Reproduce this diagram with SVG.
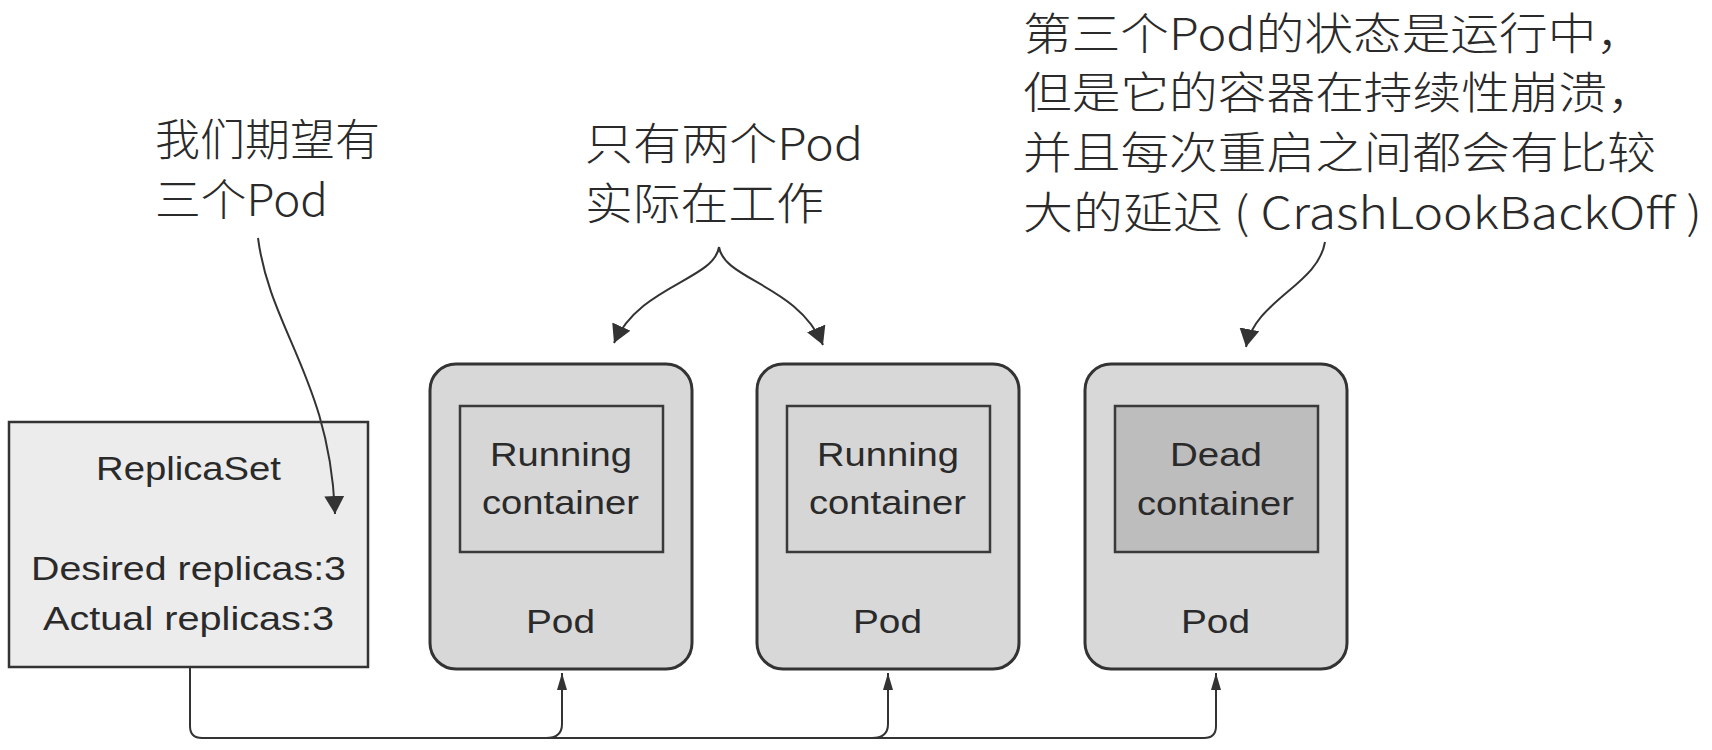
<svg xmlns="http://www.w3.org/2000/svg" width="1712" height="750" viewBox="0 0 1712 750">
<style>
  text { font-family: "Liberation Sans", "Noto Sans CJK SC", sans-serif; fill: #2a2a2a; }
  .cjk { font-family: "Noto Sans CJK SC", "Liberation Sans", sans-serif; font-size: 44px; font-weight: 300; }
  .lbl { font-size: 34px; }
  .pod { fill: #d8d8d8; stroke: #333; stroke-width: 3; }
  .inner { fill: #d6d6d6; stroke: #3a3a3a; stroke-width: 2.5; }
  .dead { fill: #bdbdbd; stroke: #3a3a3a; stroke-width: 2.5; }
  .rs { fill: #ececec; stroke: #333; stroke-width: 2.5; }
  .conn { fill: none; stroke: #333; stroke-width: 2; }
</style>
<defs>
  <marker id="ah" viewBox="0 0 18 20" refX="18" refY="10" markerWidth="18" markerHeight="20" orient="auto" markerUnits="userSpaceOnUse">
    <path d="M0,0 L18,10 L0,20 z" fill="#333"/>
  </marker>
  <marker id="ahs" viewBox="0 0 17 10" refX="17" refY="5" markerWidth="17" markerHeight="10" orient="auto" markerUnits="userSpaceOnUse">
    <path d="M0,0 L17,5 L0,10 z" fill="#333"/>
  </marker>
</defs>

<g id="note-desired">
  <text class="cjk" x="155" y="156" textLength="225" lengthAdjust="spacingAndGlyphs">我们期望有</text>
  <text class="cjk" x="155" y="216" textLength="173" lengthAdjust="spacingAndGlyphs">三个Pod</text>
</g>

<g id="note-actual">
  <text class="cjk" x="585" y="160" textLength="278" lengthAdjust="spacingAndGlyphs">只有两个Pod</text>
  <text class="cjk" x="585" y="220" textLength="239" lengthAdjust="spacingAndGlyphs">实际在工作</text>
</g>

<g id="note-crash">
  <text class="cjk" x="1023" y="50" textLength="622" lengthAdjust="spacingAndGlyphs">第三个Pod的状态是运行中，</text>
  <text class="cjk" x="1023" y="109" textLength="633" lengthAdjust="spacingAndGlyphs">但是它的容器在持续性崩溃，</text>
  <text class="cjk" x="1023" y="169" textLength="633" lengthAdjust="spacingAndGlyphs">并且每次重启之间都会有比较</text>
  <text class="cjk" x="1023" y="229" textLength="679" lengthAdjust="spacingAndGlyphs">大的延迟 ( CrashLookBackOff )</text>
</g>

<g id="replicaset">
  <rect class="rs" x="9" y="422" width="359" height="245"/>
  <text class="lbl" x="96" y="480" textLength="185" lengthAdjust="spacingAndGlyphs">ReplicaSet</text>
  <text class="lbl" x="31" y="580" textLength="315" lengthAdjust="spacingAndGlyphs">Desired replicas:3</text>
  <text class="lbl" x="43" y="630" textLength="291" lengthAdjust="spacingAndGlyphs">Actual replicas:3</text>
</g>

<g id="pod1">
  <rect class="pod" x="430" y="364" width="262" height="305" rx="26"/>
  <rect class="inner" x="460" y="406" width="203" height="146"/>
  <text class="lbl" x="490" y="466" textLength="142" lengthAdjust="spacingAndGlyphs">Running</text>
  <text class="lbl" x="482" y="514" textLength="157" lengthAdjust="spacingAndGlyphs">container</text>
  <text class="lbl" x="526" y="633" textLength="69" lengthAdjust="spacingAndGlyphs">Pod</text>
</g>

<g id="pod2">
  <rect class="pod" x="757" y="364" width="262" height="305" rx="26"/>
  <rect class="inner" x="787" y="406" width="203" height="146"/>
  <text class="lbl" x="817" y="466" textLength="142" lengthAdjust="spacingAndGlyphs">Running</text>
  <text class="lbl" x="809" y="514" textLength="157" lengthAdjust="spacingAndGlyphs">container</text>
  <text class="lbl" x="853" y="633" textLength="69" lengthAdjust="spacingAndGlyphs">Pod</text>
</g>

<g id="pod3">
  <rect class="pod" x="1085" y="364" width="262" height="305" rx="26"/>
  <rect class="dead" x="1115" y="406" width="203" height="146"/>
  <text class="lbl" x="1170" y="466" textLength="92" lengthAdjust="spacingAndGlyphs">Dead</text>
  <text class="lbl" x="1137" y="515" textLength="157" lengthAdjust="spacingAndGlyphs">container</text>
  <text class="lbl" x="1181" y="633" textLength="69" lengthAdjust="spacingAndGlyphs">Pod</text>
</g>

<g id="connectors">
  <path class="conn" d="M258,238 C270,330 330,380 335,514" marker-end="url(#ah)"/>
  <path class="conn" d="M719,247 C714,280 640,285 614,343" marker-end="url(#ah)"/>
  <path class="conn" d="M719,247 C724,280 798,285 823,345" marker-end="url(#ah)"/>
  <path class="conn" d="M1325,242 C1318,285 1255,300 1246,347" marker-end="url(#ah)"/>
  <path class="conn" d="M190,667 V726 Q190,738 202,738 H1204 Q1216,738 1216,726 V673" marker-end="url(#ahs)"/>
  <path class="conn" d="M546,738 Q562,738 562,724 V673" marker-end="url(#ahs)"/>
  <path class="conn" d="M872,738 Q888,738 888,724 V673" marker-end="url(#ahs)"/>
</g>
</svg>
